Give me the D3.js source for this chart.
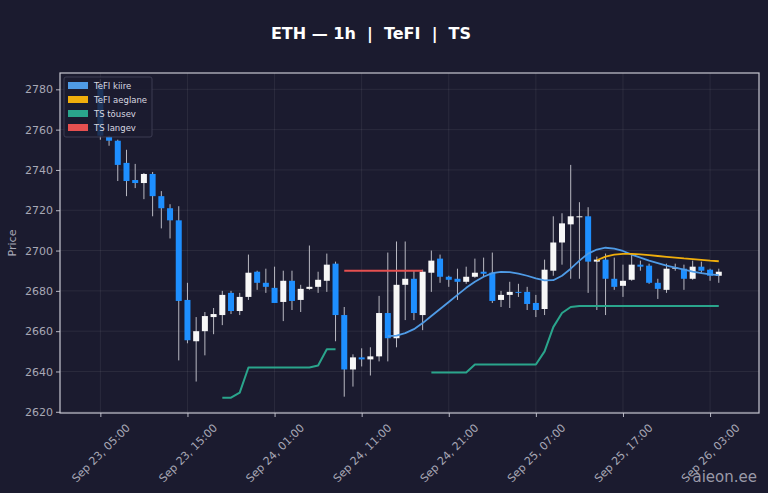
<!DOCTYPE html>
<html>
<head>
<meta charset="utf-8">
<script src="https://cdn.jsdelivr.net/npm/d3@7"></script>
<style>
  html, body { margin: 0; padding: 0; background: #1b1b2f; }
  svg { display: block; font-family: "DejaVu Sans", sans-serif; }
</style>
</head>
<body>
<script>
// hourly candles, first one at Sep 23 05:00
var startTime = new Date(Date.UTC(2025, 8, 23, 5));

var opens  = [2782, 2756.5, 2754.5, 2743.5, 2735, 2733.5, 2738, 2727, 2721, 2715,
              2675.5, 2655, 2660, 2667, 2668, 2679, 2670, 2677, 2689.5, 2684,
              2681.5, 2674.5, 2685, 2675.5, 2681, 2682, 2685, 2693.5, 2668, 2641,
              2647, 2646, 2647.5, 2669, 2656.5, 2683, 2686, 2668, 2689, 2696,
              2687, 2686, 2684.5, 2687, 2689.5, 2689, 2675.5, 2678, 2679.5, 2679.5,
              2674, 2671, 2690, 2704, 2713, 2716.5, 2717, 2694.5, 2695.5, 2686,
              2682.5, 2685.5, 2693, 2692.5, 2684, 2680.5, 2691, 2691, 2686, 2692,
              2690.5, 2687.5];
var highs  = [2785, 2757, 2755, 2750, 2743, 2738.5, 2739, 2729.5, 2723, 2722,
              2684, 2667, 2669.5, 2671.5, 2680, 2680, 2679, 2698, 2690, 2691,
              2692, 2690, 2690, 2683, 2702.5, 2689.5, 2698.5, 2694.5, 2672, 2648.5,
              2651.5, 2652, 2677.5, 2699, 2704.5, 2704.5, 2690, 2690.5, 2700, 2698,
              2687.5, 2691, 2692, 2696, 2696.5, 2699, 2680, 2684.5, 2683.5, 2682,
              2678, 2695.5, 2717, 2718.5, 2742.5, 2724, 2721.5, 2697, 2698.5, 2696.5,
              2693, 2698, 2695, 2693.5, 2686, 2693.5, 2693.5, 2693, 2695, 2694.5,
              2691, 2691];
var lows   = [2755, 2752, 2734.5, 2727, 2731, 2725.5, 2717, 2711, 2706, 2645.5,
              2654, 2635, 2648, 2658.5, 2663, 2668.5, 2668, 2675.5, 2680.5, 2679,
              2674, 2665, 2670.5, 2669.5, 2680.5, 2679, 2679.5, 2655, 2627.5, 2632.5,
              2642.5, 2638, 2645, 2645, 2652, 2665.5, 2665.5, 2660.5, 2679.5, 2684,
              2682, 2675.5, 2683.5, 2686.5, 2687, 2674, 2672, 2671.5, 2677, 2670.5,
              2667, 2668, 2687.5, 2693, 2686, 2686, 2679, 2670.5, 2668, 2680.5,
              2677, 2685, 2690, 2683.5, 2676, 2679, 2690, 2680.5, 2685.5, 2689,
              2685, 2684];
var closes = [2757, 2754.5, 2742.5, 2734.5, 2733.5, 2738, 2727, 2721, 2715, 2675,
              2655.5, 2660, 2667.5, 2668.5, 2678, 2670, 2677, 2689, 2684, 2682,
              2674, 2685, 2675, 2681, 2682, 2685.5, 2693, 2668, 2641, 2647,
              2646, 2647.5, 2669, 2656.5, 2683, 2686, 2669, 2689.5, 2695, 2687,
              2685.5, 2684.5, 2687, 2689, 2688.5, 2675, 2678, 2679.5, 2679, 2673.5,
              2670.5, 2690.5, 2704, 2713.5, 2717, 2717, 2694.5, 2695.5, 2686, 2682,
              2685, 2693, 2692, 2684, 2681, 2691, 2691.5, 2686, 2692, 2690,
              2687.5, 2689.5];

// indicator lines (null = not drawn)
var N = null;
var tefiFast = [N, N, N, N, N, N, N, N, N, N, N, N, N, N, N, N, N, N, N, N,
                N, N, N, N, N, N, N, N, N, N, N, N, N,
                2657.5, 2657.8, 2659, 2661, 2664, 2667.5, 2671, 2674.5, 2678, 2681.5,
                2684.5, 2687, 2688.8, 2689.4, 2689.3, 2688.6, 2687.5, 2686.2, 2685.2, 2685.3,
                2687.5, 2691, 2695, 2698.5, 2700.5, 2701.4, 2701, 2699.8, 2698, 2696.5,
                2695, 2693.8, 2692.5, 2691.5, 2690.5, 2689.6, 2688.8, 2688.2, 2687.8];
var tefiSlow = [N, N, N, N, N, N, N, N, N, N, N, N, N, N, N, N, N, N, N, N,
                N, N, N, N, N, N, N, N, N, N, N, N, N, N, N, N, N, N, N, N,
                N, N, N, N, N, N, N, N, N, N, N, N, N, N, N, N, N,
                2695.2, 2697, 2698, 2698.4, 2698.4, 2698.1, 2697.7, 2697.3, 2696.9, 2696.5,
                2696.1, 2695.8, 2695.4, 2695, 2694.7];
var tsUp = [N, N, N, N, N, N, N, N, N, N, N, N, N, N,
            2627, 2627, 2629.5, 2642, 2642, 2642, 2642, 2642, 2642, 2642, 2642, 2643, 2651, 2651,
            N, N, N, N, N, N, N, N, N, N,
            2639.5, 2639.5, 2639.5, 2639.5, 2639.5, 2643.5, 2643.5, 2643.5, 2643.5, 2643.5,
            2643.5, 2643.5, 2643.5, 2650, 2662, 2669, 2672, 2672.5, 2672.5, 2672.5,
            2672.5, 2672.5, 2672.5, 2672.5, 2672.5, 2672.5, 2672.5, 2672.5, 2672.5, 2672.5,
            2672.5, 2672.5, 2672.5, 2672.5];
var tsDown = [N, N, N, N, N, N, N, N, N, N, N, N, N, N, N, N, N, N, N, N,
              N, N, N, N, N, N, N, N,
              2690, 2690, 2690, 2690, 2690, 2690, 2690, 2690, 2690, 2690,
              N, N, N, N, N, N, N, N, N, N, N, N, N, N, N, N, N, N, N, N,
              N, N, N, N, N, N, N, N, N, N, N, N, N, N];

var yTicks = [2620, 2640, 2660, 2680, 2700, 2720, 2740, 2760, 2780];
var xTickHours = [0, 10, 20, 30, 40, 50, 60, 70]; // hours after start

var series = [
  {name: "TeFI kiire",   values: tefiFast, color: "#4f9be6", width: 1.8},
  {name: "TeFI aeglane", values: tefiSlow, color: "#f0ae0c", width: 1.8},
  {name: "TS tõusev",    values: tsUp,     color: "#2aa58c", width: 2},
  {name: "TS langev",    values: tsDown,   color: "#e65050", width: 2}
];

var W = 768, H = 493;
var margin = {top: 73, right: 9, bottom: 80, left: 60},
    width = W - margin.left - margin.right,
    height = H - margin.top - margin.bottom;

var times = opens.map(function(d, i) { return d3.utcHour.offset(startTime, i); });
var candles = opens.map(function(d, i) {
  return {t: times[i], o: opens[i], h: highs[i], l: lows[i], c: closes[i]};
});

var pad = 4.62;
var x = d3.scaleUtc()
    .domain([d3.utcMinute.offset(times[0], -pad * 60), d3.utcMinute.offset(times[times.length - 1], pad * 60)])
    .range([0, width]);
var y = d3.scaleLinear().domain([2619.4, 2788.1]).range([height, 0]);

var svg = d3.select("body").append("svg")
    .attr("width", W)
    .attr("height", H);

svg.append("rect").attr("width", W).attr("height", H).attr("fill", "#1b1b2f");

var g = svg.append("g")
    .attr("transform", "translate(" + margin.left + "," + margin.top + ")");

// grid
g.append("g").selectAll("line")
  .data(yTicks).enter().append("line")
    .attr("x1", 0).attr("x2", width)
    .attr("y1", function(d) { return y(d); })
    .attr("y2", function(d) { return y(d); })
    .attr("stroke", "#ffffff").attr("stroke-opacity", 0.07);
var xTickDates = xTickHours.map(function(h) { return d3.utcHour.offset(startTime, h); });
g.append("g").selectAll("line")
  .data(xTickDates).enter().append("line")
    .attr("y1", 0).attr("y2", height)
    .attr("x1", function(d) { return x(d); })
    .attr("x2", function(d) { return x(d); })
    .attr("stroke", "#ffffff").attr("stroke-opacity", 0.07);

// candles
var bodyW = 6;
var cg = g.append("g");
cg.selectAll("line.wick")
  .data(candles).enter().append("line")
    .attr("class", "wick")
    .attr("x1", function(d) { return x(d.t); })
    .attr("x2", function(d) { return x(d.t); })
    .attr("y1", function(d) { return y(d.h); })
    .attr("y2", function(d) { return y(d.l); })
    .attr("stroke", "#b9b9c2").attr("stroke-width", 1);
cg.selectAll("rect.body")
  .data(candles).enter().append("rect")
    .attr("class", "body")
    .attr("x", function(d) { return x(d.t) - bodyW / 2; })
    .attr("y", function(d) { return y(Math.max(d.o, d.c)); })
    .attr("width", bodyW)
    .attr("height", function(d) { return Math.max(1, Math.abs(y(d.o) - y(d.c))); })
    .attr("fill", function(d) { return d.c >= d.o ? "#f7f7f7" : "#1e8fff"; });

// indicator lines
var line = d3.line()
    .defined(function(d) { return d.v != null; })
    .x(function(d) { return x(d.t); })
    .y(function(d) { return y(d.v); });
series.forEach(function(s) {
  g.append("path")
    .datum(s.values.map(function(v, i) { return {t: times[i], v: v}; }))
    .attr("fill", "none")
    .attr("stroke", s.color)
    .attr("stroke-width", s.width)
    .attr("stroke-linejoin", "round")
    .attr("d", line);
});

// axes
var yAxis = g.append("g")
    .call(d3.axisLeft(y).tickValues(yTicks).tickSize(4).tickPadding(3).tickFormat(d3.format("d")));
var xAxis = g.append("g")
    .attr("transform", "translate(0," + height + ")")
    .call(d3.axisBottom(x).tickValues(xTickDates).tickSize(4).tickFormat(d3.utcFormat("%b %d, %H:%M")));
[yAxis, xAxis].forEach(function(a) {
  a.select(".domain").remove();
  a.selectAll(".tick line").attr("stroke", "#b8b8c4");
  a.selectAll("text").attr("fill", "#a8a8b6").style("font-size", "11px")
    .style("font-family", "DejaVu Sans");
});
// rotated labels centred under their tick
xAxis.selectAll("text")
    .attr("x", 0).attr("y", 0).attr("dx", 0).attr("dy", "0.35em")
    .attr("text-anchor", "middle")
    .attr("transform", "translate(0,40) rotate(-45)");

// frame
g.append("rect")
    .attr("width", width).attr("height", height)
    .attr("fill", "none").attr("stroke", "#c9c9d3").attr("stroke-width", 1.2);

// legend
var lg = g.append("g").attr("transform", "translate(4,4)");
lg.append("rect")
    .attr("width", 88).attr("height", 60).attr("rx", 2)
    .attr("fill", "#1b1b2f").attr("fill-opacity", 0.8)
    .attr("stroke", "#44445a").attr("stroke-width", 0.8);
series.forEach(function(s, i) {
  lg.append("rect")
    .attr("x", 4).attr("y", 5 + i * 14)
    .attr("width", 20).attr("height", 7)
    .attr("fill", s.color);
  lg.append("text")
    .attr("x", 30).attr("y", 12 + i * 14)
    .attr("fill", "#d8d8e0")
    .style("font-size", "8.5px")
    .text(s.name);
});

// labels
svg.append("text")
    .attr("x", 371).attr("y", 39)
    .attr("text-anchor", "middle")
    .attr("fill", "#ffffff")
    .style("font-size", "16px").style("font-weight", "bold")
    .style("white-space", "pre")
    .text("ETH — 1h  |  TeFI  |  TS");
svg.append("text")
    .attr("transform", "translate(16," + (margin.top + height / 2) + ") rotate(-90)")
    .attr("text-anchor", "middle")
    .attr("fill", "#a8a8b6")
    .style("font-size", "11px")
    .text("Price");
svg.append("text")
    .attr("x", 757).attr("y", 482)
    .attr("text-anchor", "end")
    .attr("fill", "#9a9aa8")
    .style("font-size", "15px")
    .text("aieon.ee");
</script>
</body>
</html>
